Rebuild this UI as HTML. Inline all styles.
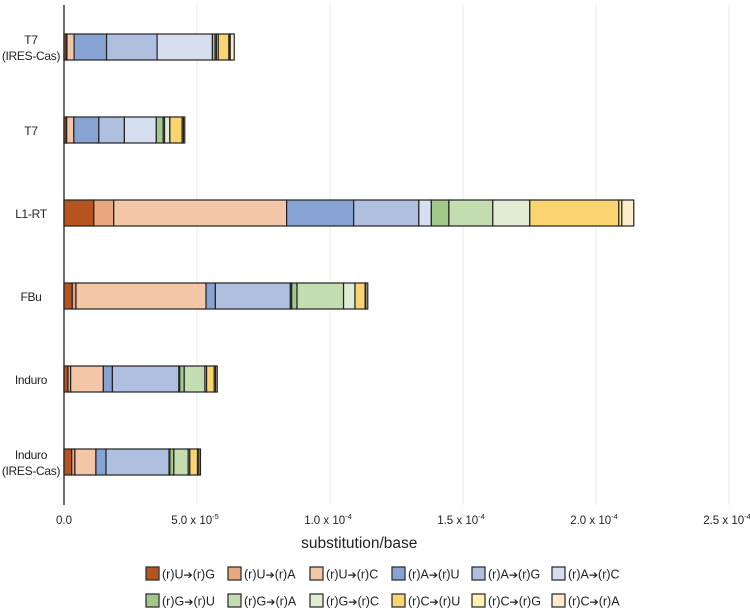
<!DOCTYPE html>
<html><head><meta charset="utf-8"><style>
body{margin:0;background:#fff;font-family:"Liberation Sans",sans-serif;}
svg text{font-family:"Liberation Sans","DejaVu Sans",sans-serif;fill:#222;}
</style></head><body>
<svg id="chart" width="750" height="611" xmlns="http://www.w3.org/2000/svg"></svg>
<script>
const categories = ["T7|(IRES-Cas)","T7","L1-RT","FBu","Induro","Induro|(IRES-Cas)"];
const seriesFrom = ["(r)U","(r)U","(r)U","(r)A","(r)A","(r)A","(r)G","(r)G","(r)G","(r)C","(r)C","(r)C"];
const seriesTo = ["(r)G","(r)A","(r)C","(r)U","(r)G","(r)C","(r)U","(r)A","(r)C","(r)U","(r)G","(r)A"];
const colors = ["#b5541f","#e9a77f","#f3c6a8","#87a3d4","#aebfe0","#d6dfef","#a3c98a","#c3dcb0","#e0ecd6","#fad46e","#fdf3b0","#fdebc9"];
// values in units of 1e-5 substitution/base, per category
const vT7Ires   = [0.08,0.03,0.27,1.22,1.90,2.08,0.10,0.05,0.07,0.40,0.05,0.15];
const vT7       = [0.08,0.02,0.27,0.94,0.96,1.20,0.26,0.05,0.20,0.46,0.05,0.05];
const vL1RT     = [1.12,0.75,6.50,2.52,2.45,0.47,0.66,1.65,1.39,3.35,0.11,0.45];
const vFBu      = [0.31,0.14,4.89,0.35,2.82,0.05,0.20,1.75,0.43,0.38,0.03,0.07];
const vInduro   = [0.15,0.10,1.23,0.34,2.50,0.03,0.17,0.78,0.06,0.29,0.05,0.06];
const vInduroIr = [0.29,0.12,0.79,0.38,2.37,0.03,0.15,0.54,0.06,0.29,0.05,0.06];
const values = [vT7Ires,vT7,vL1RT,vFBu,vInduro,vInduroIr];
const ticks = [0,5,10,15,20,25];
const tickLabels = ["0.0","5.0 x 10","1.0 x 10","1.5 x 10","2.0 x 10","2.5 x 10"];
const tickExp = ["","-5","-4","-4","-4","-4"];

const NS="http://www.w3.org/2000/svg";
const svg=document.getElementById('chart');
function el(t,a,p){const e=document.createElementNS(NS,t);for(const k in a)e.setAttribute(k,a[k]);(p||svg).appendChild(e);return e;}
const x0=64, pxPer=26.6;
function xs(v){return x0+v*pxPer;}
function ys(i){return 34+i*83;}
const barH=26;

ticks.forEach((t,i)=>{
  if(i>0){const g=el('line',{x1:xs(t),x2:xs(t),y1:5,y2:505,stroke:'#e8e8e8','stroke-width':1});
  
  }
  const tx=el('text',{x:xs(t)+(i==0?0:-2),y:524,'font-size':11.5,'text-anchor':'middle'});
  
  
  tx.textContent=tickLabels[i];
  if(tickExp[i]){const s=el('tspan',{dy:-5,'font-size':7.5},tx);s.textContent=tickExp[i];}
});
const ax=el('line',{x1:x0,x2:x0,y1:5,y2:505,stroke:'#222','stroke-width':1.3});



values.forEach((row,i)=>{
  let acc=0;
  row.forEach((v,j)=>{
    const r=el('rect',{x:xs(acc),y:ys(i),width:Math.max(v*pxPer,0.5),height:barH,fill:colors[j],stroke:'#222','stroke-width':1.2});
    
    
    acc+=v;
  });
  const lines=categories[i].split('|');
  const t=el('text',{x:31,y:ys(i)+barH/2+(lines.length>1?-3:5),'font-size':12,'text-anchor':'middle','letter-spacing':'-0.3'});
  
  
  lines.forEach((l,k)=>{const s=el('tspan',{x:31,dy:k==0?0:16},t);s.textContent=l;});
});

const xt=el('text',{x:xs(11.1),y:548,'font-size':15.5,'text-anchor':'middle'});


xt.textContent='substitution/base';

const lx=[146,228,310,392,472,552];
seriesFrom.forEach((n,j)=>{
  const row=Math.floor(j/6), col=j%6;
  const y=567+row*27;
  const g=el('g',{});
  
  
  el('rect',{x:lx[col],y:y,width:13,height:13,fill:colors[j],stroke:'#333','stroke-width':1.3},g);
  const t=el('text',{x:lx[col]+16,y:y+11.5,'font-size':12.5},g);
  const a=el('tspan',{},t);a.textContent=n;
  const b=el('tspan',{'font-size':11,'font-family':'DejaVu Sans'},t);b.textContent='➔';
  const c=el('tspan',{},t);c.textContent=seriesTo[j];
});
</script>
</body></html>
